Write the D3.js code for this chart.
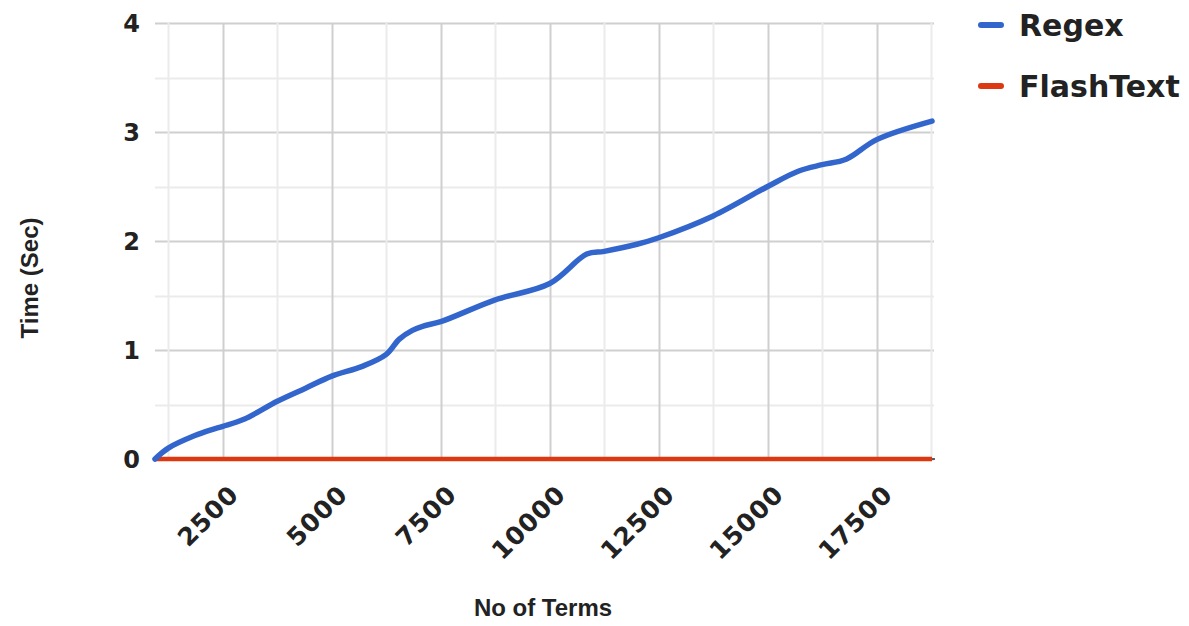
<!DOCTYPE html>
<html>
<head>
<meta charset="utf-8">
<script src="https://cdn.jsdelivr.net/npm/d3@7"></script>
<style>
  html, body { margin: 0; padding: 0; background: #fff; }
  svg { display: block; }
</style>
</head>
<body>
<svg id="chart" width="1189" height="626"></svg>
<script>
// ---- data ----
const termCounts = [945, 1250, 1860, 2250, 2500, 3000, 3750, 4400, 5000, 5700, 6250, 6550, 6850, 7100, 7500, 8750, 10000, 10850, 11250, 12000, 12500, 13750, 15000, 15700, 16250, 16800, 17500, 18770];
const regexTimes = [0, 0.10, 0.215, 0.27, 0.30, 0.367, 0.53, 0.65, 0.76, 0.85, 0.96, 1.10, 1.18, 1.22, 1.26, 1.46, 1.61, 1.88, 1.905, 1.97, 2.03, 2.23, 2.50, 2.64, 2.70, 2.75, 2.93, 3.10];
const flashTextTimes = [0, 0, 0, 0, 0, 0, 0, 0, 0, 0, 0, 0, 0, 0, 0, 0, 0, 0, 0, 0, 0, 0, 0, 0, 0, 0, 0, 0];
const xTickValues = [2500, 5000, 7500, 10000, 12500, 15000, 17500];
const xGridValues = [1250, 2500, 3750, 5000, 6250, 7500, 8750, 10000, 11250, 12500, 13750, 15000, 16250, 17500, 18750];
const yTickValues = [0, 1, 2, 3, 4];
const yGridValues = [0, 0.5, 1, 1.5, 2, 2.5, 3, 3.5, 4];
const seriesNames = ["Regex", "FlashText"];
const seriesColors = ["#3366cc", "#dc3912"];
const xTitle = "No of Terms";
const yTitle = "Time (Sec)";

(function () {
// ---- layout ----
const svg = d3.select("#chart");
const pLeft = 155, pRight = 932, pTop = 23, pBottom = 459;

const x = d3.scaleLinear().domain(d3.extent(termCounts)).range([pLeft, pRight]);
const y = d3.scaleLinear().domain([0, 4]).range([pBottom, pTop]);

// gridlines
const grid = svg.append("g");
grid.selectAll("line.hg").data(yGridValues).join("line")
  .attr("x1", pLeft).attr("x2", pRight + 2)
  .attr("y1", d => Math.round(y(d)) + 0.5).attr("y2", d => Math.round(y(d)) + 0.5)
  .attr("stroke", d => Number.isInteger(d) ? "#cfcfcf" : "#ebebeb")
  .attr("stroke-width", 2);
grid.selectAll("line.vg").data(xGridValues).join("line")
  .attr("x1", d => Math.round(x(d)) + 0.5).attr("x2", d => Math.round(x(d)) + 0.5)
  .attr("y1", pTop).attr("y2", pBottom)
  .attr("stroke", d => d % 2500 === 0 ? "#cfcfcf" : "#ebebeb")
  .attr("stroke-width", 2);

// baseline
svg.append("line")
  .attr("x1", pLeft - 2).attr("x2", pRight + 3)
  .attr("y1", y(0)).attr("y2", y(0))
  .attr("stroke", "#333").attr("stroke-width", 1.5);

// y axis labels
const yAxis = d3.axisLeft(y).tickValues(yTickValues).tickSize(0).tickPadding(15).tickFormat(d3.format("d"));
const yg = svg.append("g").attr("transform", `translate(${pLeft},0)`).call(yAxis);
yg.select(".domain").remove();
yg.selectAll("text")
  .attr("font-family", "DejaVu Sans").attr("font-weight", "bold")
  .attr("font-size", 24).attr("fill", "#222").attr("dy", "0.36em");

// x axis labels (rotated)
const xAxis = d3.axisBottom(x).tickValues(xTickValues).tickSize(0).tickFormat(d3.format("d"));
const xg = svg.append("g").attr("transform", `translate(0,${pBottom})`).call(xAxis);
xg.select(".domain").remove();
xg.selectAll("text")
  .attr("font-family", "DejaVu Sans").attr("font-weight", "bold")
  .attr("font-size", 25).attr("fill", "#222")
  .attr("text-anchor", "end")
  .attr("letter-spacing", 1)
  .attr("y", 0).attr("dy", 0)
  .attr("transform", "translate(17,37) rotate(-45)");

// lines
const line = d3.line().x((d, i) => x(termCounts[i])).y(d => y(d)).curve(d3.curveCatmullRom.alpha(0.5));
svg.append("path").datum(flashTextTimes)
  .attr("d", line).attr("fill", "none")
  .attr("stroke", seriesColors[1]).attr("stroke-width", 4.5);
svg.append("path").datum(regexTimes)
  .attr("d", line).attr("fill", "none")
  .attr("stroke", seriesColors[0]).attr("stroke-width", 5.5)
  .attr("stroke-linejoin", "round").attr("stroke-linecap", "round");

// axis titles
svg.append("text").text(xTitle)
  .attr("x", 543).attr("y", 616)
  .attr("text-anchor", "middle")
  .attr("font-family", "Liberation Sans").attr("font-weight", "bold")
  .attr("font-size", 24).attr("fill", "#222");
svg.append("text").text(yTitle)
  .attr("transform", "translate(38,278) rotate(-90)")
  .attr("text-anchor", "middle")
  .attr("font-family", "Liberation Sans").attr("font-weight", "bold")
  .attr("font-size", 24).attr("fill", "#222");

// legend
const legend = svg.append("g");
seriesNames.forEach((name, i) => {
  const ly = 25 + i * 61;
  legend.append("line")
    .attr("x1", 981).attr("x2", 1001).attr("y1", ly).attr("y2", ly)
    .attr("stroke", seriesColors[i]).attr("stroke-width", 6).attr("stroke-linecap", "round");
  legend.append("text").text(name)
    .attr("x", 1019).attr("y", ly).attr("dy", "0.36em")
    .attr("font-family", "DejaVu Sans").attr("font-weight", "bold")
    .attr("font-size", 30).attr("fill", "#222");
});
})();
</script>
</body>
</html>
